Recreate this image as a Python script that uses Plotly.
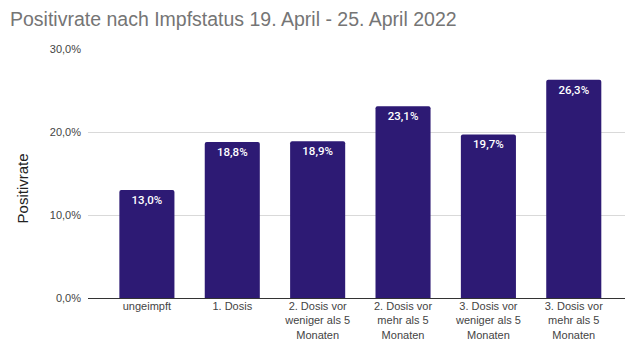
import plotly.graph_objects as go

categories = ["ungeimpft", "1. Dosis", "2. Dosis vor<br>weniger als 5<br>Monaten",
              "2. Dosis vor<br>mehr als 5<br>Monaten", "3. Dosis vor<br>weniger als 5<br>Monaten",
              "3. Dosis vor<br>mehr als 5<br>Monaten"]
positivrate = [0.130, 0.188, 0.189, 0.231, 0.197, 0.263]
y_ticks = [0, 0.1, 0.2, 0.3]

fig = go.Figure(go.Bar(
    x=list(range(len(categories))), y=positivrate,
    marker=dict(color="#2d1a74", line=dict(width=0)),
    width=0.645,
    texttemplate="%{y:.1%}", textposition="inside", insidetextanchor="end",
    textangle=0,
    textfont=dict(family="Roboto, Arial, sans-serif", size=11.5, color="white", weight=500),
    cliponaxis=False,
))

fig.update_layout(
    width=640, height=351,
    margin=dict(l=88, r=15, t=49, b=53, autoexpand=False),
    paper_bgcolor="white", plot_bgcolor="white",
    separators=",.",
    barcornerradius=2,
    showlegend=False,
    title=dict(text="Positivrate nach Impfstatus 19. April - 25. April 2022",
               x=10/640, xanchor="left", y=1-19/351, yanchor="middle",
               font=dict(family="Liberation Sans, Arial, sans-serif", size=19.5, color="#757575")),
    font=dict(family="Liberation Sans, Arial, sans-serif", size=11, color="#444444"),
    xaxis=dict(tickmode="array", tickvals=list(range(len(categories))), ticktext=categories,
               range=[-0.69, 5.6], showgrid=False, showline=False, zeroline=False,
               ticks="", tickfont=dict(size=11, color="#444444"), automargin=False),
    yaxis=dict(range=[0, 0.3], tickvals=y_ticks, tickformat=".1%",
               showgrid=True, gridcolor="#d9d9d9", gridwidth=1,
               zeroline=True, zerolinecolor="#333333", zerolinewidth=1,
               ticks="", ticklabelstandoff=6,
               tickfont=dict(size=11, color="#444444"), automargin=False),
    annotations=[dict(text="Positivrate", xref="paper", yref="paper",
                      x=-(88-22)/537, y=0.44, xanchor="center", yanchor="middle",
                      textangle=-90, showarrow=False,
                      font=dict(family="Liberation Sans, Arial, sans-serif", size=15, color="#222222"))],
)

fig.write_html("out.html")
